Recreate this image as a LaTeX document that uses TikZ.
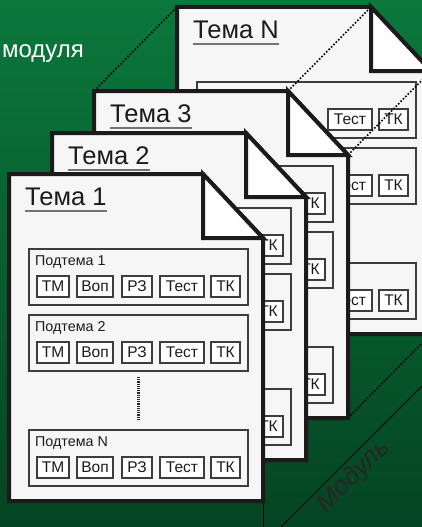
\documentclass[tikz,border=0pt]{standalone}
\usepackage{fontspec}
\setmainfont{Liberation Sans}
\usetikzlibrary{calc}
\definecolor{gtop}{RGB}{11,120,60}
\definecolor{gbot}{RGB}{4,68,34}
\definecolor{paper}{RGB}{246,246,246}
\definecolor{ink}{RGB}{28,26,26}
\tikzset{
  pageborder/.style={line width=4pt, draw=ink, line join=miter},
  subbox/.style={draw=ink!85, line width=1.2pt},
  itembox/.style={draw=ink!85, line width=1.2pt, fill=white, inner sep=0pt, minimum height=21pt,
    font=\fontsize{15.5}{15.5}\selectfont, text=ink},
  subfont/.style={font=\fontsize{14.3}{14.3}\selectfont, text=ink, inner sep=0pt},
  titlefont/.style={font=\fontsize{25.5}{25.5}\selectfont, text=ink, inner sep=0pt},
  uline/.style={draw=black!55, line width=1.3pt},
  dotline/.style={draw=black, line width=1.6pt, dash pattern=on 1.6pt off 1.8pt},
  dotvert/.style={draw=black!85, line width=2.6pt, dash pattern=on 1.1pt off 1.1pt},
  modline/.style={draw=black, line width=0.9pt},
}
% #1 id, #2 x, #3 y, #4 label, #5 full (1) or back (0)
\newcommand\mysub[5]{%
  \begin{scope}[shift={(#2,#3)}]
    \draw[subbox] (0,0) rectangle (219,56);
    \ifnum#5>0
      \node[subfont, anchor=base west] (#1-lab) at (6,16) {#4};
      \node[itembox, minimum width=32pt] (#1-tm) at (24,37.5) {ТМ};
      \node[itembox, minimum width=36pt] (#1-vop) at (66,37.5) {Воп};
      \node[itembox, minimum width=30pt] (#1-rz) at (108,37.5) {РЗ};
    \fi
    \node[itembox, minimum width=44pt] (#1-test) at (153,37.5) {Тест};
    \node[itembox, minimum width=29pt] (#1-tk) at (196.5,37.5) {ТК};
  \end{scope}}
\newcommand\mypage[5]{%
  \begin{scope}[shift={(#2,#3)}]
    \fill[paper] (0,0) -- (194,0) -- (254,64) -- (254,327) -- (0,327) -- cycle;
    \mysub{#1-a}{20}{75}{Подтема 1}{#5}
    \mysub{#1-b}{20}{141}{Подтема 2}{#5}
    \mysub{#1-c}{20}{256}{Подтема N}{#5}
    \ifnum#5>0
      \coordinate (#1-d1) at (129.5,203);
      \coordinate (#1-d2) at (129.5,247);
      \draw[dotvert] (#1-d1) -- (#1-d2);
    \fi
    \draw[pageborder] (0,0) -- (194,0) -- (254,64) -- (254,327) -- (0,327) -- cycle;
    \filldraw[pageborder, fill=white] (194,0) -- (194,64) -- (254,64) -- cycle;
    \node[titlefont, anchor=base west] (#1-title) at (16,31) {#4};
    \draw[uline] ($(#1-title.base west)+(0,6)$) -- ($(#1-title.base east)+(0,6)$);
  \end{scope}}
\begin{document}
\begin{tikzpicture}[x=1pt,y=-1pt]
  \useasboundingbox (0,0) rectangle (422,527);
  \clip (0,0) rectangle (422,527);
  \shade[top color=gtop, bottom color=gbot] (0,0) rectangle (422,527);
  % header fragment
  \node[anchor=base east, text=white, font=\fontsize{24}{24}\selectfont, inner sep=0pt] (hdr) at (84,58) {модуля};
  % module line and label
  \coordinate (m1) at (275,533);
  \coordinate (m2) at (428,380);
  \draw[modline] (m1) -- (m2);
  \node[rotate=45, font=\fontsize{26}{26}\selectfont\itshape, text=black!85, inner sep=0pt] (mod) at (354,476) {Модуль};
  % vertical line below Tema 1
  \coordinate (v1) at (263,500);
  \coordinate (v2) at (263,530);
  \draw[modline] (v1) -- (v2);
  % corner coordinates
  \coordinate (c3tl) at (94,91);
  \coordinate (c3f) at (288,91);
  \coordinate (c3fr) at (348,155);
  \coordinate (c3br) at (348,418);
  \coordinate (cNtl) at (177,7);
  \coordinate (cNf) at (371,7);
  \coordinate (cNfr) at (431,71);
  \coordinate (cNbr) at (431,334);
  % pages
  \mypage{pN}{177}{7}{Тема N}{0}
  \draw[dotline] (c3tl) -- (cNtl);
  \draw[dotline] (c3f) -- (cNf);
  \draw[dotline] (c3fr) -- (cNfr);
  \draw[dotline] (c3br) -- (cNbr);
  \mypage{p3}{94}{91}{Тема 3}{0}
  \mypage{p2}{52}{133}{Тема 2}{0}
  \mypage{p1}{9}{174}{Тема 1}{1}
\end{tikzpicture}
\end{document}
